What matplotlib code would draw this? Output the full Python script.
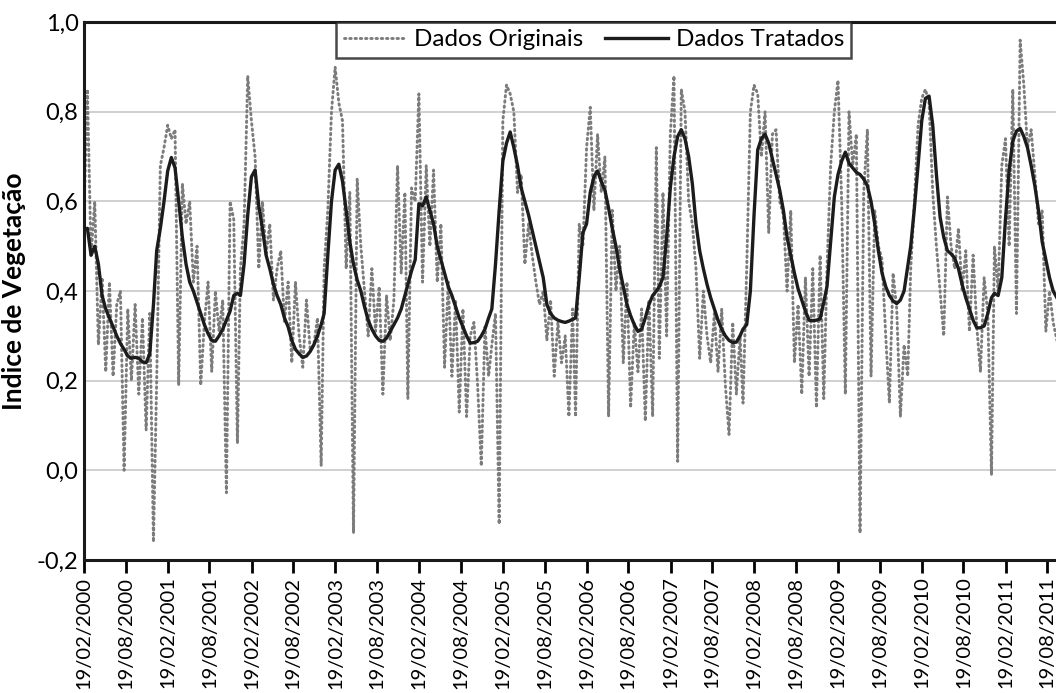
import numpy as np
import pandas as pd
import matplotlib
matplotlib.use('Agg')
import matplotlib.pyplot as plt
import matplotlib.dates as mdates
from matplotlib.ticker import FuncFormatter

# 16-day composite values per year (2000 starts at DOY 49, 2011 ends at DOY 289)
orig = {
    2000: [0.55, 0.85, 0.48, 0.60, 0.28, 0.43, 0.22, 0.42, 0.21, 0.37, 0.40, 0.00,
           0.36, 0.20, 0.37, 0.17, 0.34, 0.09, 0.35, -0.16],
    2001: [0.20, 0.68, 0.72, 0.77, 0.74, 0.76, 0.19, 0.64, 0.55, 0.60, 0.42, 0.50,
           0.19, 0.33, 0.42, 0.22, 0.40, 0.31, 0.38, -0.05, 0.60, 0.56, 0.06],
    2002: [0.45, 0.55, 0.88, 0.78, 0.70, 0.45, 0.60, 0.48, 0.55, 0.38, 0.45, 0.49,
           0.33, 0.42, 0.24, 0.42, 0.30, 0.23, 0.38, 0.27, 0.28, 0.34, 0.01],
    2003: [0.45, 0.58, 0.80, 0.90, 0.82, 0.78, 0.45, 0.62, -0.14, 0.65, 0.50, 0.40,
           0.30, 0.45, 0.31, 0.41, 0.17, 0.39, 0.29, 0.38, 0.68, 0.44, 0.62],
    2004: [0.16, 0.63, 0.60, 0.84, 0.42, 0.68, 0.50, 0.67, 0.42, 0.55, 0.23, 0.42,
           0.21, 0.38, 0.13, 0.36, 0.12, 0.30, 0.33, 0.19, 0.01, 0.32, 0.21],
    2005: [0.28, 0.35, -0.12, 0.78, 0.86, 0.84, 0.80, 0.62, 0.66, 0.46, 0.55, 0.48,
           0.42, 0.37, 0.40, 0.29, 0.38, 0.21, 0.33, 0.24, 0.30, 0.12, 0.36],
    2006: [0.12, 0.55, 0.50, 0.72, 0.81, 0.58, 0.75, 0.62, 0.70, 0.12, 0.58, 0.40,
           0.50, 0.24, 0.42, 0.14, 0.33, 0.22, 0.36, 0.11, 0.38, 0.12, 0.72],
    2007: [0.25, 0.62, 0.30, 0.75, 0.88, 0.02, 0.85, 0.80, 0.60, 0.55, 0.45, 0.25,
           0.40, 0.30, 0.24, 0.35, 0.22, 0.36, 0.19, 0.08, 0.33, 0.17, 0.30],
    2008: [0.15, 0.45, 0.80, 0.86, 0.84, 0.70, 0.80, 0.53, 0.75, 0.76, 0.60, 0.57,
           0.40, 0.58, 0.24, 0.37, 0.17, 0.43, 0.21, 0.45, 0.14, 0.48, 0.16],
    2009: [0.45, 0.68, 0.80, 0.87, 0.60, 0.17, 0.80, 0.68, 0.75, -0.14, 0.62, 0.76,
           0.21, 0.58, 0.50, 0.47, 0.30, 0.15, 0.44, 0.36, 0.12, 0.28, 0.21],
    2010: [0.45, 0.60, 0.77, 0.83, 0.85, 0.82, 0.62, 0.50, 0.40, 0.30, 0.61, 0.50,
           0.45, 0.54, 0.40, 0.49, 0.31, 0.48, 0.32, 0.22, 0.43, 0.35, -0.01],
    2011: [0.50, 0.40, 0.68, 0.74, 0.50, 0.85, 0.35, 0.96, 0.86, 0.72, 0.76, 0.66,
           0.55, 0.58, 0.31, 0.40, 0.33, 0.29, 0.27],
}

tratado = {
    2000: [0.537, 0.54, 0.48, 0.50, 0.46, 0.39, 0.36, 0.34, 0.32, 0.30, 0.283, 0.27,
           0.255, 0.25, 0.252, 0.25, 0.242, 0.24, 0.26, 0.37],
    2001: [0.49, 0.54, 0.60, 0.668, 0.698, 0.675, 0.60, 0.52, 0.46, 0.42, 0.40, 0.375,
           0.35, 0.325, 0.305, 0.29, 0.288, 0.30, 0.315, 0.335, 0.355, 0.39, 0.395],
    2002: [0.39, 0.46, 0.57, 0.655, 0.67, 0.59, 0.54, 0.48, 0.45, 0.415, 0.39, 0.37,
           0.34, 0.32, 0.29, 0.27, 0.26, 0.252, 0.255, 0.265, 0.28, 0.30, 0.325],
    2003: [0.35, 0.48, 0.60, 0.67, 0.683, 0.645, 0.58, 0.51, 0.46, 0.425, 0.40, 0.365,
           0.335, 0.315, 0.30, 0.29, 0.288, 0.295, 0.31, 0.325, 0.34, 0.36, 0.39],
    2004: [0.415, 0.445, 0.47, 0.595, 0.59, 0.61, 0.58, 0.55, 0.50, 0.47, 0.44, 0.41,
           0.39, 0.365, 0.34, 0.32, 0.30, 0.284, 0.285, 0.288, 0.30, 0.315, 0.34],
    2005: [0.36, 0.46, 0.58, 0.69, 0.73, 0.755, 0.72, 0.68, 0.63, 0.60, 0.57, 0.535,
           0.50, 0.465, 0.43, 0.37, 0.35, 0.34, 0.335, 0.332, 0.33, 0.333, 0.337],
    2006: [0.34, 0.43, 0.53, 0.55, 0.62, 0.655, 0.668, 0.645, 0.625, 0.585, 0.54, 0.50,
           0.45, 0.41, 0.37, 0.345, 0.325, 0.31, 0.315, 0.34, 0.37, 0.39, 0.40],
    2007: [0.41, 0.43, 0.52, 0.63, 0.70, 0.745, 0.76, 0.74, 0.70, 0.64, 0.55, 0.49,
           0.45, 0.415, 0.385, 0.36, 0.335, 0.315, 0.30, 0.29, 0.285, 0.286, 0.30],
    2008: [0.315, 0.325, 0.40, 0.57, 0.715, 0.74, 0.75, 0.73, 0.695, 0.66, 0.625, 0.58,
           0.52, 0.48, 0.44, 0.405, 0.38, 0.355, 0.335, 0.334, 0.335, 0.338, 0.375],
    2009: [0.41, 0.51, 0.61, 0.66, 0.69, 0.71, 0.685, 0.675, 0.665, 0.66, 0.65, 0.635,
           0.60, 0.55, 0.49, 0.44, 0.41, 0.39, 0.378, 0.372, 0.38, 0.40, 0.455],
    2010: [0.50, 0.585, 0.68, 0.78, 0.83, 0.835, 0.77, 0.66, 0.565, 0.52, 0.49, 0.483,
           0.473, 0.45, 0.415, 0.385, 0.36, 0.335, 0.318, 0.318, 0.322, 0.35, 0.385],
    2011: [0.395, 0.39, 0.43, 0.56, 0.67, 0.735, 0.757, 0.763, 0.745, 0.72, 0.68, 0.635,
           0.58, 0.51, 0.47, 0.43, 0.40, 0.385, 0.373],
}

y_ticks = [-0.2, 0.0, 0.2, 0.4, 0.6, 0.8, 1.0]


def composite_dates(year, n):
    # MODIS 16-day composites: DOY 1, 17, 33, ... ; 2000 starts at DOY 49
    first = 49 if year == 2000 else 1
    return [pd.Timestamp(year, 1, 1) + pd.Timedelta(days=first - 1 + 16 * i) for i in range(n)]


dates, v_orig, v_trat = [], [], []
for yr in sorted(orig):
    dates += composite_dates(yr, len(orig[yr]))
    v_orig += orig[yr]
    v_trat += tratado[yr]

plt.rcParams['font.family'] = ['Lato', 'DejaVu Sans']

fig = plt.figure(figsize=(10.56, 6.93), dpi=100)
ax = fig.add_axes([0.0795, 0.192, 0.925, 0.776])

ax.plot(dates, v_orig, linestyle=(0, (0.5, 1.3)), dash_capstyle='round', color='#7c7c7c',
        lw=2.1, label='Dados Originais', zorder=2)
ax.plot(dates, v_trat, color='#1c1c1c', lw=2.4, label='Dados Tratados', zorder=3)

ax.set_ylim(-0.2, 1.0)
ax.set_yticks(y_ticks)
ax.yaxis.set_major_formatter(FuncFormatter(lambda v, p: f'{v:.1f}'.replace('.', ',')))
ax.set_xlim(pd.Timestamp(2000, 2, 19), pd.Timestamp(2011, 10, 17))
ax.xaxis.set_major_locator(mdates.MonthLocator(bymonth=(2, 8), bymonthday=19))
ax.xaxis.set_major_formatter(mdates.DateFormatter('%d/%m/%Y'))
ax.tick_params(axis='x', rotation=90, labelsize=14.5, length=9, width=2, direction='out', pad=3)
ax.tick_params(axis='y', labelsize=17, length=0, pad=4)

ax.grid(axis='y', color='#c8c8c8', lw=1.2)
ax.set_axisbelow(True)
for s in ['left', 'bottom', 'top']:
    ax.spines[s].set_linewidth(2.2)
    ax.spines[s].set_color('#1a1a1a')
ax.spines['right'].set_visible(False)

ax.set_ylabel('Indice de Vegetação', fontsize=19, fontweight='bold', labelpad=8)

leg = ax.legend(loc='upper center', bbox_to_anchor=(0.522, 1.0), ncol=2, fontsize=17.5,
                frameon=True, fancybox=False, handlelength=2.6, columnspacing=0.9,
                handletextpad=0.3, borderpad=0.3, borderaxespad=0.0)
leg.get_frame().set_edgecolor('#1a1a1a')
leg.get_frame().set_linewidth(1.8)

fig.savefig('out.png', dpi=100)
